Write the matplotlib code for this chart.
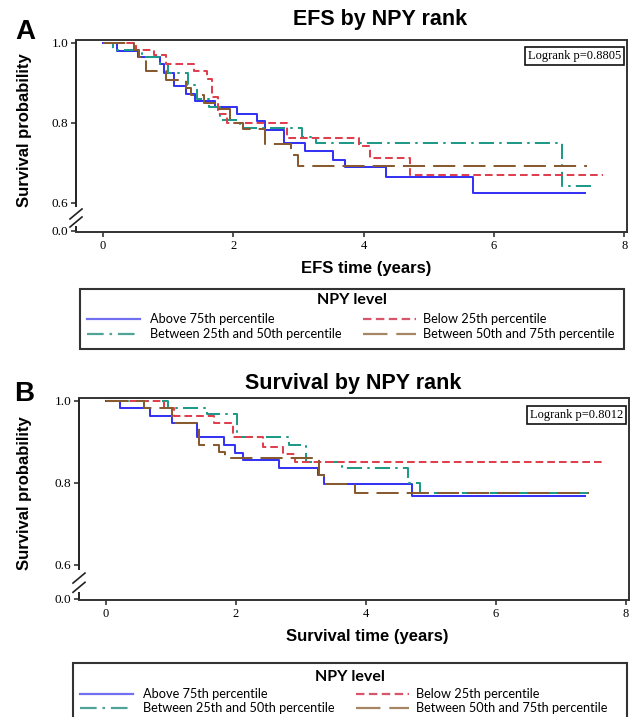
import matplotlib
matplotlib.use("Agg")
import matplotlib.pyplot as plt
from matplotlib.lines import Line2D
from matplotlib.patches import Rectangle

# ---- data (Kaplan-Meier steps) ----
group_labels = ["Above 75th percentile", "Between 25th and 50th percentile",
                "Below 25th percentile", "Between 50th and 75th percentile"]

# Panel A - EFS
efs_above_t = [0, 0.22, 0.53, 0.87, 0.94, 1.09, 1.27, 1.41, 1.72, 2.05, 2.36, 2.48, 2.77, 3.10, 3.53, 3.71, 4.34, 5.67, 7.39]
efs_above_s = [1.0, 0.98, 0.965, 0.948, 0.925, 0.892, 0.873, 0.854, 0.84, 0.823, 0.805, 0.783, 0.749, 0.730, 0.707, 0.690, 0.665, 0.626, 0.626]
efs_q2_t = [0, 0.16, 0.60, 0.87, 1.00, 1.30, 1.45, 1.62, 1.80, 2.10, 3.05, 3.27, 7.05, 7.50]
efs_q2_s = [1.0, 0.982, 0.965, 0.946, 0.925, 0.894, 0.86, 0.84, 0.807, 0.786, 0.765, 0.749, 0.642, 0.642]
efs_below_t = [0, 0.50, 0.78, 0.97, 1.40, 1.59, 1.67, 1.77, 1.90, 2.83, 3.93, 4.10, 4.71, 7.67]
efs_below_s = [1.0, 0.982, 0.969, 0.948, 0.93, 0.91, 0.865, 0.823, 0.80, 0.762, 0.742, 0.712, 0.669, 0.669]
efs_q3_t = [0, 0.47, 0.55, 0.66, 0.97, 1.27, 1.35, 1.55, 1.72, 1.95, 2.15, 2.48, 2.89, 2.99, 7.43]
efs_q3_s = [1.0, 0.982, 0.965, 0.93, 0.908, 0.887, 0.87, 0.85, 0.834, 0.80, 0.785, 0.748, 0.72, 0.692, 0.692]

# Panel B - overall survival
os_above_t = [0, 0.22, 0.68, 1.02, 1.40, 1.81, 1.98, 2.11, 2.67, 3.26, 3.35, 4.71, 7.38]
os_above_s = [1.0, 0.981, 0.963, 0.945, 0.911, 0.892, 0.873, 0.855, 0.837, 0.818, 0.797, 0.768, 0.768]
os_q2_t = [0, 0.96, 1.55, 2.02, 2.82, 3.08, 3.63, 4.65, 4.84, 7.47]
os_q2_s = [1.0, 0.981, 0.967, 0.911, 0.892, 0.851, 0.835, 0.80, 0.774, 0.774]
os_below_t = [0, 0.90, 1.05, 1.67, 1.95, 2.42, 2.73, 2.91, 7.65]
os_below_s = [1.0, 0.981, 0.963, 0.946, 0.912, 0.888, 0.87, 0.851, 0.851]
os_q3_t = [0, 0.59, 1.02, 1.43, 1.74, 1.83, 3.28, 3.35, 3.84, 7.44]
os_q3_s = [1.0, 0.981, 0.945, 0.892, 0.876, 0.86, 0.819, 0.797, 0.774, 0.774]

x_ticks = [0, 2, 4, 6, 8]
y_ticks = [0.6, 0.8, 1.0]
logrank_a = "Logrank p=0.8805"
logrank_b = "Logrank p=0.8012"

# ---- styles ----
cores = ["#3434f2", "#1f9a89", "#e0404e", "#875a30"]
tracos = [None, (7.5, 2.6, 1.2, 2.6), (3.8, 2.0), (11, 4)]
cores_leg = ["#7070f0", "#4fa497", "#d8566a", "#a58564"]
lw = 1.45

plt.rcParams["font.family"] = "Liberation Sans"

W, H = 635.0, 717.0
fig = plt.figure(figsize=(6.35, 7.17), dpi=100)


def fx(x):
    return x / W


def fy(y):
    return 1 - y / H


def painel(pos, curvas, xlim, ylim, y_zero, quebra, px_unid, titulo, tpos, xlabel, xlpos,
           ylpos, letra, lpos, logrank, bpos):
    ax = fig.add_axes(pos)
    for (t, s), cor, tr in zip(curvas, cores, tracos):
        ln, = ax.step(t, s, where="post", color=cor, lw=lw)
        if tr is not None:
            ln.set_dashes(tr)
    ax.set_xlim(*xlim)
    ax.set_ylim(*ylim)
    ax.set_xticks(x_ticks)
    ax.set_xticklabels([str(v) for v in x_ticks], family="Liberation Serif", fontsize=9)
    ax.set_yticks([y_zero] + y_ticks)
    ax.set_yticklabels(["0.0"] + ["%.1f" % v for v in y_ticks], family="Liberation Serif", fontsize=9.5)
    ax.tick_params(direction="out", length=3.5, width=1.1, color="#222", pad=2)
    for lado in ["top", "right", "bottom"]:
        ax.spines[lado].set_linewidth(1.4)
        ax.spines[lado].set_color("#333333")
    ax.spines["left"].set_visible(False)

    # eixo y quebrado
    tr_y = ax.get_yaxis_transform()
    topo, s1, s2, base = quebra
    kw = dict(transform=tr_y, color="#222", lw=1.4, clip_on=False, solid_capstyle="butt")
    ax.plot([0, 0], [topo, ylim[1]], **kw)
    ax.plot([0, 0], [ylim[0], base], **kw)
    dx = 6.0 / (pos[2] * W)
    dy = 5.0 / px_unid
    for yc in (s1, s2):
        ax.plot([-dx, dx], [yc - dy, yc + dy], transform=tr_y, color="#222", lw=1.2, clip_on=False)

    fig.text(tpos[0], tpos[1], titulo, ha="center", va="center", fontsize=15.5, fontweight="bold")
    fig.text(xlpos[0], xlpos[1], xlabel, ha="center", va="center", fontsize=12, fontweight="bold")
    fig.text(ylpos[0], ylpos[1], "Survival probability", ha="center", va="center", rotation=90,
             fontsize=12, fontweight="bold")
    fig.text(lpos[0], lpos[1], letra, ha="center", va="center", fontsize=20, fontweight="bold")
    fig.text(bpos[0], bpos[1], logrank, ha="center", va="center", family="Liberation Serif", fontsize=9,
             bbox=dict(boxstyle="square,pad=0.25", facecolor="white", edgecolor="#111", lw=1.2))
    return ax


def legenda(x0, x1, y0, y1, y_tit, y_l1, y_l2):
    fig.add_artist(Rectangle((fx(x0), fy(y1)), fx(x1) - fx(x0), fy(y0) - fy(y1),
                             transform=fig.transFigure, facecolor="white", edgecolor="#333333", lw=1.5))
    fig.text(fx((x0 + x1) / 2), fy(y_tit), "NPY level", ha="center", va="center",
             family="Lato", fontsize=11.5, fontweight="bold")
    linhas = [y_l1, y_l2, y_l1, y_l2]
    cols = [(x0 + 7, x0 + 60, x0 + 70), (x0 + 7, x0 + 60, x0 + 70),
            (x0 + 283, x0 + 336, x0 + 343), (x0 + 283, x0 + 336, x0 + 343)]
    for lab, cor, tr, yy, (h0, h1, tx) in zip(group_labels, cores_leg, tracos, linhas, cols):
        h = Line2D([fx(h0), fx(h1)], [fy(yy), fy(yy)], transform=fig.transFigure, color=cor, lw=1.6)
        if tr is not None:
            h.set_dashes(tr)
        fig.add_artist(h)
        fig.text(fx(tx), fy(yy), lab, ha="left", va="center", family="Lato", fontsize=9.2)


painel([76 / W, 1 - 232 / H, 551 / W, 192 / H],
       [(efs_above_t, efs_above_s), (efs_q2_t, efs_q2_s), (efs_below_t, efs_below_s), (efs_q3_t, efs_q3_s)],
       (-0.414, 8.04), (0.5275, 1.0068), 0.531, (0.59, 0.5725, 0.5525, 0.5425), 400.0,
       "EFS by NPY rank", (380 / W, 1 - 19 / H), "EFS time (years)", (366 / W, 1 - 269 / H),
       (25 / W, 1 - 130 / H), "A", (25 / W, 1 - 32 / H), logrank_a, (574.5 / W, 1 - 56 / H))

painel([79 / W, 1 - 600 / H, 550 / W, 202 / H],
       [(os_above_t, os_above_s), (os_q2_t, os_q2_s), (os_below_t, os_below_s), (os_q3_t, os_q3_s)],
       (-0.415, 8.05), (0.514, 1.0066), 0.5165, (0.587, 0.5675, 0.545, 0.533), 410.0,
       "Survival by NPY rank", (353 / W, 1 - 384 / H), "Survival time (years)", (367 / W, 1 - 636 / H),
       (25 / W, 1 - 493 / H), "B", (24 / W, 1 - 394 / H), logrank_b, (576.5 / W, 1 - 415 / H))

legenda(80, 624, 289, 349, 300, 319, 334)
legenda(73, 627, 663, 719, 677, 694, 708)

fig.savefig("out.png", dpi=100)
